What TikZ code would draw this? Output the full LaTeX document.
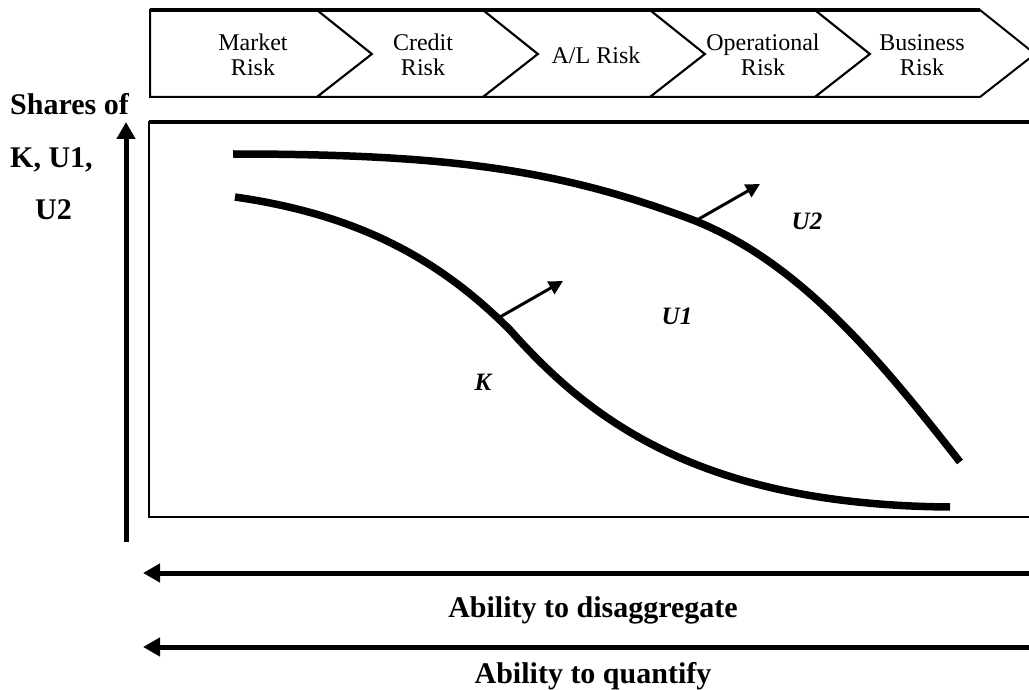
\documentclass[tikz,border=0pt]{standalone}
\usepackage{fontspec}
\setmainfont{Liberation Serif}
\usetikzlibrary{arrows.meta}
\tikzset{
  chev/.style={draw=black, line width=2pt, line join=miter, fill=white},
  chevtext/.style={font=\fontsize{24}{25}\selectfont, align=center, inner sep=0pt},
  axislbl/.style={font=\fontsize{30}{30}\selectfont\bfseries, inner sep=0pt, anchor=base west},
  bottomlbl/.style={font=\fontsize{30}{30}\selectfont\bfseries, inner sep=0pt, anchor=base},
  curvelbl/.style={font=\fontsize{25}{25}\selectfont\bfseries\itshape, inner sep=0pt},
  curve/.style={line width=7.5pt},
  bigarrow/.style={line width=5pt, -{Triangle[length=17pt,width=18pt]}},
  shiftarrow/.style={line width=3pt, -{Triangle[length=14pt,width=14pt]}}
}
\begin{document}
\begin{tikzpicture}[x=1pt,y=-1pt]
\useasboundingbox (0,0) rectangle (1029,690);
\begin{scope}
\clip (0,0) rectangle (1029,690);
% chevrons
\draw[chev] (150,10) -- (317,10) -- (372,54) -- (317,97) -- (150,97) -- cycle;
\foreach \l/\r in {317/483, 483/650, 650/815, 815/980}{
  \draw[chev] (\l,10) -- (\r,10) -- (\r+55,54) -- (\r,97) -- (\l,97) -- (\l+55,54) -- cycle;
}
\draw[line width=3.5pt] (150,10) -- (980,10);
% main box
\draw[line width=2pt] (1040,122) -- (149,122) -- (149,517) -- (1040,517);
\draw[line width=3.5pt] (149,122) -- (1040,122);
% bottom arrows
\coordinate (d1) at (1040,573);
\coordinate (d0) at (143,573);
\coordinate (q1) at (1040,647);
\coordinate (q0) at (143,647);
\draw[bigarrow] (d1) -- (d0);
\draw[bigarrow] (q1) -- (q0);
\end{scope}
% chevron texts
\node[chevtext] (mk) at (253,55) {Market\\Risk};
\node[chevtext] (cr) at (423,55) {Credit\\Risk};
\node[chevtext] (al) at (596,55) {A/L Risk};
\node[chevtext] (op) at (763,55) {Operational\\Risk};
\node[chevtext] (bu) at (922,55) {Business\\Risk};
% vertical axis
\coordinate (v0) at (126,542);
\coordinate (v1) at (126,122);
\draw[bigarrow] (v0) -- (v1);
\node[axislbl] (s1) at (10,115) {Shares of};
\node[axislbl] (s2) at (10,168) {K, U1,};
\node[axislbl] (s3) at (35,220) {U2};
% curves
\draw[curve] (233,154) .. controls (450,154) and (560,170) .. (693,220)
             .. controls (800,262) and (880,360) .. (960,462);
\draw[curve] (235,197) .. controls (360,215) and (440,260) .. (510,330)
             .. controls (590,420) and (700,505) .. (950,507);
% shift arrows
\coordinate (ka) at (500,317);
\coordinate (kb) at (563,281);
\coordinate (ua) at (697,220);
\coordinate (ub) at (760,184);
\draw[shiftarrow] (ka) -- (kb);
\draw[shiftarrow] (ua) -- (ub);
% labels
\node[curvelbl] (lu2) at (807,221) {U2};
\node[curvelbl] (lu1) at (677,316) {U1};
\node[curvelbl] (lk) at (483,382) {K};
\node[bottomlbl] (t1) at (593,617) {Ability to disaggregate};
\node[bottomlbl] (t2) at (593,683) {Ability to quantify};
\end{tikzpicture}
\end{document}
